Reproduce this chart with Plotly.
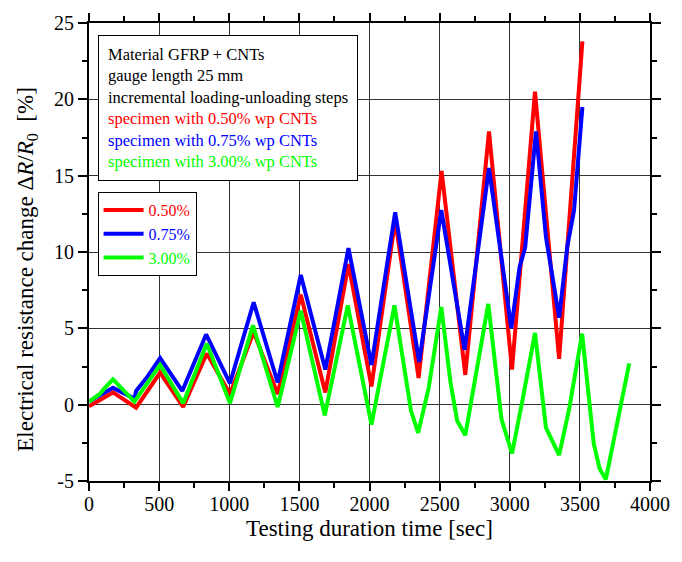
import plotly.graph_objects as go

# ---------------- data ----------------
t_red = [0, 171, 336, 507, 671, 840, 1005, 1174, 1345, 1510, 1685, 1850, 2014,
         2183, 2350, 2514, 2683, 2852, 3016, 3180, 3352, 3518]
v_red = [-0.1, 0.8, -0.2, 2.1, -0.15, 3.35, 0.7, 4.75, 0.7, 7.2, 0.8, 9.2, 1.2,
         12.1, 1.75, 15.3, 1.95, 17.9, 2.3, 20.5, 3.0, 23.8]

t_blue = [0, 171, 324, 336, 418, 507, 665, 835, 1005, 1174, 1345, 1510, 1685,
          1850, 2014, 2183, 2354, 2512, 2678, 2852, 3011, 3070, 3110, 3187,
          3258, 3303, 3352, 3411, 3458, 3518]
v_blue = [0.2, 1.1, 0.4, 0.9, 1.85, 3.05, 0.9, 4.6, 1.4, 6.7, 1.45, 8.5, 2.3,
          10.25, 2.6, 12.6, 2.8, 12.75, 3.6, 15.5, 5.0, 9.0, 10.3, 17.9,
          11.0, 8.4, 5.7, 10.4, 12.7, 19.5]

t_green = [0, 77, 113, 171, 324, 507, 671, 840, 1005, 1169, 1345, 1510, 1681,
           1845, 2014, 2178, 2296, 2347, 2422, 2512, 2577, 2625, 2683, 2847,
           2941, 3016, 3094, 3180, 3258, 3352, 3423, 3516, 3599, 3641, 3685,
           3763, 3852]
v_green = [0.2, 0.7, 1.1, 1.65, 0.2, 2.6, 0.1, 4.0, 0.1, 5.2, -0.15, 6.15, -0.7,
           6.5, -1.3, 6.5, -0.4, -1.85, 1.1, 6.4, 1.5, -1.05, -2.0, 6.6,
           -0.95, -3.2, 0.45, 4.7, -1.5, -3.3, -0.3, 4.65, -2.55, -4.2, -4.9,
           -1.25, 2.7]

series_names = ["0.50%", "0.75%", "3.00%"]
series_colors = ["#ff0000", "#0000ff", "#00ff00"]

x_ticks = [0, 500, 1000, 1500, 2000, 2500, 3000, 3500, 4000]
y_ticks = [-5, 0, 5, 10, 15, 20, 25]

x_title = "Testing duration time [sec]"
y_title = "Electrical resistance change Δ<i>R</i>/<i>R</i><sub>0</sub>  [%]"

info_lines = [
    ("Material GFRP + CNTs", "#000000"),
    ("gauge length 25 mm", "#000000"),
    ("incremental loading-unloading steps", "#000000"),
    ("specimen with 0.50% wp CNTs", "#ff0000"),
    ("specimen with 0.75% wp CNTs", "#0000ff"),
    ("specimen with 3.00% wp CNTs", "#00ff00"),
]

FONT = "Liberation Serif"

fig = go.Figure()
for tt, vv, nm, col in zip([t_red, t_blue, t_green], [v_red, v_blue, v_green],
                           series_names, series_colors):
    fig.add_trace(go.Scatter(
        x=tt, y=vv, mode="lines",
        name=f'<span style="color:{col}">{nm}</span>',
        line=dict(color=col, width=4),
    ))

axis_common = dict(
    showline=True, linecolor="black", linewidth=2, mirror="allticks",
    ticks="outside", tickwidth=1.5, tickcolor="black",
    showgrid=True, gridcolor="#333333", gridwidth=1, zeroline=False,
    tickfont=dict(family=FONT, size=20, color="black"),
)

fig.update_xaxes(
    range=[0, 4000], tickvals=x_ticks, ticktext=[str(v) for v in x_ticks],
    ticklen=8, ticklabelstandoff=-4,
    minor=dict(dtick=250, tick0=0, ticks="outside", ticklen=5, tickcolor="black",
               showgrid=False),
    **axis_common,
)
fig.update_yaxes(
    range=[-5, 25], tickvals=y_ticks, ticktext=[str(v) for v in y_ticks],
    ticklen=9,
    minor=dict(dtick=2.5, tick0=0, ticks="outside", ticklen=5, tickcolor="black",
               showgrid=False),
    **axis_common,
)

# axis titles
fig.add_annotation(xref="paper", yref="paper", x=0.5, y=-0.104,
                   xanchor="center", yanchor="middle", showarrow=False,
                   text=x_title, font=dict(family=FONT, size=23, color="black"))
fig.add_annotation(xref="paper", yref="paper", x=-0.111, y=0.463,
                   xanchor="center", yanchor="middle", showarrow=False,
                   textangle=-90,
                   text=y_title, font=dict(family=FONT, size=23, color="black"))

info_text = "<br>".join(f'<span style="color:{c}">{t}</span>' for t, c in info_lines)
fig.add_annotation(
    xref="paper", yref="paper", x=0.0153, y=0.9735,
    xanchor="left", yanchor="top", showarrow=False, align="left",
    text=info_text, font=dict(family=FONT, size=16.5, color="black"),
    bgcolor="white", bordercolor="black", borderwidth=1, borderpad=9,
)

fig.update_layout(
    width=682, height=562,
    margin=dict(l=89, r=25, t=17, b=81),
    paper_bgcolor="white", plot_bgcolor="white",
    font=dict(family=FONT, color="black"),
    legend=dict(
        x=0.0153, y=0.631, xanchor="left", yanchor="top",
        bgcolor="white", bordercolor="black", borderwidth=1,
        font=dict(family=FONT, size=16),
        itemwidth=40, tracegroupgap=0,
    ),
    showlegend=True,
)

fig.write_html("out.html")
